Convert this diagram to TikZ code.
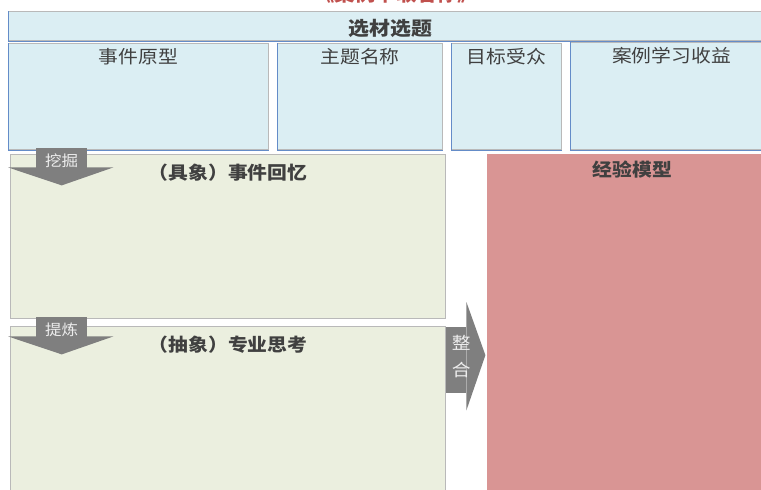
\documentclass[tikz,border=0pt]{standalone}
\usepackage{fontspec}
\setmainfont[FakeStretch=1.1]{Noto Sans CJK SC}
\usetikzlibrary{positioning}
\definecolor{titlered}{RGB}{192,80,77}
\definecolor{topicblue}{RGB}{219,238,243}
\definecolor{edgeblue}{RGB}{100,140,200}
\definecolor{edgegray}{RGB}{185,185,185}
\definecolor{recallgreen}{RGB}{235,239,223}
\definecolor{modelred}{RGB}{217,149,148}
\definecolor{arrowgray}{RGB}{127,127,127}
\definecolor{labelgray}{RGB}{64,64,64}

\begin{document}
\begin{tikzpicture}[x=1pt,y=-1pt,
    topicbox/.style={draw=edgegray, fill=topicblue, line width=1pt, anchor=north west, inner sep=0pt},
    thinkbox/.style={draw=edgegray, fill=recallgreen, line width=1pt, anchor=north west, inner sep=0pt},
    boxlabel/.style={inner sep=0pt, text=labelgray, font=\fontsize{18}{18}\selectfont},
    boldlabel/.style={inner sep=0pt, text=labelgray, font=\fontsize{18}{18}\selectfont\bfseries},
    tabarrow/.style={fill=arrowgray, anchor=north west, inner sep=0pt},
    tablabel/.style={inner sep=0pt, text=white!93!black, font=\fontsize{15}{15}\selectfont}]

    \clip (0,0) rectangle (761,490);

    % title, cut by the page edge
    \node[text=titlered, font=\fontsize{18.5}{18.5}\selectfont\bfseries, inner sep=0pt, anchor=base] (title) at (396,1) {《案例萃取名称》};

    \node[topicbox, minimum width=770pt, minimum height=29pt] (topic) at (8,11) {};
    \node[topicbox, minimum width=260pt, minimum height=106pt] (origin) at (8,43) {};
    \node[topicbox, minimum width=165pt, minimum height=106pt] (theme) at (277,43) {};
    \node[topicbox, minimum width=110pt, minimum height=106pt] (audience) at (451,43) {};
    \node[topicbox, minimum width=202pt, minimum height=107pt] (gain) at (570,42) {};
    \foreach \b in {topic,origin,theme,audience,gain}
        \draw[edgeblue, line width=1pt] (\b.north west) -- (\b.south west) -- (\b.south east);

    \node[boldlabel, font=\fontsize{19}{19}\selectfont\bfseries, below=8pt of topic.north, xshift=-3pt] (topiclabel) {选材选题};
    \node[boxlabel, below=5pt of origin.north] (originlabel) {事件原型};
    \node[boxlabel, below=5pt of theme.north] (themelabel) {主题名称};
    \node[boxlabel, below=5pt of audience.north] (audiencelabel) {目标受众};
    \node[boxlabel, below=5pt of gain.north] (gainlabel) {案例学习收益};

    \node[thinkbox, minimum width=435pt, minimum height=164pt] (recall) at (10,154) {};
    \node[thinkbox, minimum width=435pt, minimum height=170pt] (reflect) at (10,326) {};
    \node[fill=modelred, anchor=north west, inner sep=0pt, minimum width=290pt, minimum height=340pt] (model) at (487,154) {};

    \node[boldlabel, below=10pt of recall.north] (recalllabel) {（具象）事件回忆};
    \node[boldlabel, below=10pt of reflect.north] (reflectlabel) {（抽象）专业思考};
    \node[boldlabel, below=7pt of model.north] (modellabel) {经验模型};

    % down arrows
    \node[tabarrow, minimum width=51pt, minimum height=26pt] (dig) at (36,148) {};
    \fill[arrowgray] ([shift={(-28pt,7pt)}]dig.south west) -- ([shift={(26pt,7pt)}]dig.south east) -- ([yshift=-11pt]dig.south) -- cycle;
    \node[tablabel] (diglabel) at (dig) {挖掘};

    \node[tabarrow, minimum width=51pt, minimum height=26pt] (refine) at (36,317) {};
    \fill[arrowgray] ([shift={(-28pt,7pt)}]refine.south west) -- ([shift={(26pt,7pt)}]refine.south east) -- ([yshift=-11pt]refine.south) -- cycle;
    \node[tablabel] (refinelabel) at (refine) {提炼};

    % right arrow
    \node[tabarrow, minimum width=20pt, minimum height=66pt] (merge) at (446,327) {};
    \fill[arrowgray] ([yshift=25pt]merge.north east) -- ([shift={(19pt,5pt)}]merge.east) -- ([yshift=-17pt]merge.south east) -- cycle;
    \node[tablabel, font=\fontsize{17}{27}\selectfont, align=center, xshift=5pt, yshift=4pt] (mergelabel) at (merge) {整\\合};
\end{tikzpicture}
\end{document}
